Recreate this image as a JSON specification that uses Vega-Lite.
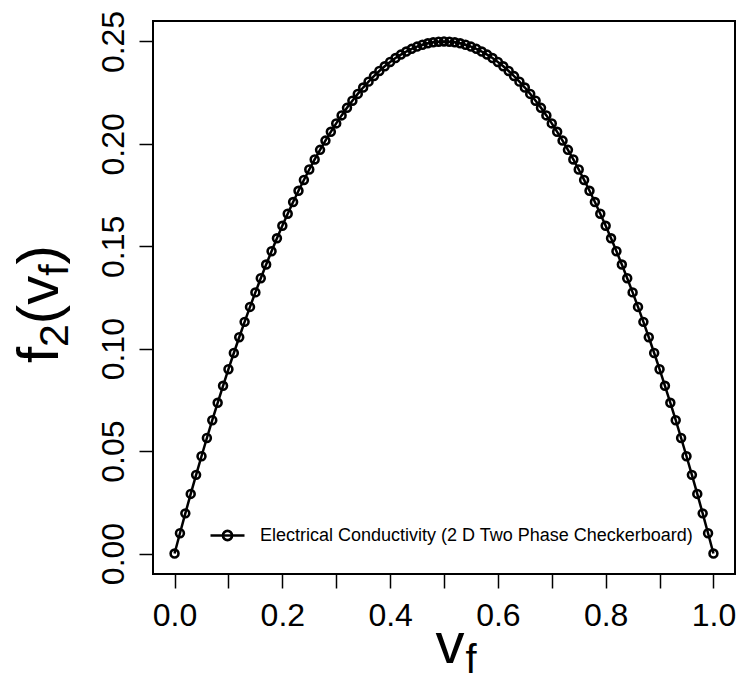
{
  "$schema": "https://vega.github.io/schema/vega-lite/v6.json",
  "width": 582,
  "height": 553,
  "autosize": {"type": "none"},
  "padding": {"left": 153, "top": 21, "right": 4, "bottom": 109},
  "background": "white",
  "config": {
    "font": "Liberation Sans",
    "view": {"stroke": "black", "strokeWidth": 2},
    "axis": {"labelFont": "Liberation Sans", "labelColor": "black", "tickColor": "black", "grid": false, "domain": false, "tickSize": 14, "tickWidth": 1.5, "labelOverlap": false, "labelFlush": false},
    "text": {"font": "Liberation Sans", "color": "black"}
  },
  "data": {"values": [
    {"v": 0.00, "f": 0}, {"v": 0.01, "f": 0.0099}, {"v": 0.02, "f": 0.0196}, {"v": 0.03, "f": 0.0291}, {"v": 0.04, "f": 0.0384},
    {"v": 0.05, "f": 0.0475}, {"v": 0.06, "f": 0.0564}, {"v": 0.07, "f": 0.0651}, {"v": 0.08, "f": 0.0736}, {"v": 0.09, "f": 0.0819},
    {"v": 0.10, "f": 0.09}, {"v": 0.11, "f": 0.0979}, {"v": 0.12, "f": 0.1056}, {"v": 0.13, "f": 0.1131}, {"v": 0.14, "f": 0.1204},
    {"v": 0.15, "f": 0.1275}, {"v": 0.16, "f": 0.1344}, {"v": 0.17, "f": 0.1411}, {"v": 0.18, "f": 0.1476}, {"v": 0.19, "f": 0.1539},
    {"v": 0.20, "f": 0.16}, {"v": 0.21, "f": 0.1659}, {"v": 0.22, "f": 0.1716}, {"v": 0.23, "f": 0.1771}, {"v": 0.24, "f": 0.1824},
    {"v": 0.25, "f": 0.1875}, {"v": 0.26, "f": 0.1924}, {"v": 0.27, "f": 0.1971}, {"v": 0.28, "f": 0.2016}, {"v": 0.29, "f": 0.2059},
    {"v": 0.30, "f": 0.21}, {"v": 0.31, "f": 0.2139}, {"v": 0.32, "f": 0.2176}, {"v": 0.33, "f": 0.2211}, {"v": 0.34, "f": 0.2244},
    {"v": 0.35, "f": 0.2275}, {"v": 0.36, "f": 0.2304}, {"v": 0.37, "f": 0.2331}, {"v": 0.38, "f": 0.2356}, {"v": 0.39, "f": 0.2379},
    {"v": 0.40, "f": 0.24}, {"v": 0.41, "f": 0.2419}, {"v": 0.42, "f": 0.2436}, {"v": 0.43, "f": 0.2451}, {"v": 0.44, "f": 0.2464},
    {"v": 0.45, "f": 0.2475}, {"v": 0.46, "f": 0.2484}, {"v": 0.47, "f": 0.2491}, {"v": 0.48, "f": 0.2496}, {"v": 0.49, "f": 0.2499},
    {"v": 0.50, "f": 0.25},
    {"v": 0.51, "f": 0.2499}, {"v": 0.52, "f": 0.2496}, {"v": 0.53, "f": 0.2491}, {"v": 0.54, "f": 0.2484}, {"v": 0.55, "f": 0.2475},
    {"v": 0.56, "f": 0.2464}, {"v": 0.57, "f": 0.2451}, {"v": 0.58, "f": 0.2436}, {"v": 0.59, "f": 0.2419}, {"v": 0.60, "f": 0.24},
    {"v": 0.61, "f": 0.2379}, {"v": 0.62, "f": 0.2356}, {"v": 0.63, "f": 0.2331}, {"v": 0.64, "f": 0.2304}, {"v": 0.65, "f": 0.2275},
    {"v": 0.66, "f": 0.2244}, {"v": 0.67, "f": 0.2211}, {"v": 0.68, "f": 0.2176}, {"v": 0.69, "f": 0.2139}, {"v": 0.70, "f": 0.21},
    {"v": 0.71, "f": 0.2059}, {"v": 0.72, "f": 0.2016}, {"v": 0.73, "f": 0.1971}, {"v": 0.74, "f": 0.1924}, {"v": 0.75, "f": 0.1875},
    {"v": 0.76, "f": 0.1824}, {"v": 0.77, "f": 0.1771}, {"v": 0.78, "f": 0.1716}, {"v": 0.79, "f": 0.1659}, {"v": 0.80, "f": 0.16},
    {"v": 0.81, "f": 0.1539}, {"v": 0.82, "f": 0.1476}, {"v": 0.83, "f": 0.1411}, {"v": 0.84, "f": 0.1344}, {"v": 0.85, "f": 0.1275},
    {"v": 0.86, "f": 0.1204}, {"v": 0.87, "f": 0.1131}, {"v": 0.88, "f": 0.1056}, {"v": 0.89, "f": 0.0979}, {"v": 0.90, "f": 0.09},
    {"v": 0.91, "f": 0.0819}, {"v": 0.92, "f": 0.0736}, {"v": 0.93, "f": 0.0651}, {"v": 0.94, "f": 0.0564}, {"v": 0.95, "f": 0.0475},
    {"v": 0.96, "f": 0.0384}, {"v": 0.97, "f": 0.0291}, {"v": 0.98, "f": 0.0196}, {"v": 0.99, "f": 0.0099}, {"v": 1.00, "f": 0}
  ]},
  "layer": [
    {
      "mark": {"type": "line", "color": "black", "strokeWidth": 2.5},
      "encoding": {
        "x": {"field": "v", "type": "quantitative", "scale": {"domain": [-0.04, 1.04], "nice": false, "zero": false},
          "axis": {"title": null, "values": [0, 0.1, 0.2, 0.3, 0.4, 0.5, 0.6, 0.7, 0.8, 0.9, 1.0],
            "labelExpr": "round(datum.value * 10) % 2 == 0 ? format(datum.value, '.1f') : ''",
            "labelFontSize": 32, "labelPadding": 12}},
        "y": {"field": "f", "type": "quantitative", "scale": {"domain": [-0.01, 0.26], "nice": false, "zero": false},
          "axis": {"title": null, "values": [0, 0.05, 0.1, 0.15, 0.2, 0.25], "format": ".2f",
            "labelAngle": 270, "labelAlign": "center", "labelBaseline": "alphabetic",
            "labelFontSize": 32, "labelPadding": 16}}
      }
    },
    {
      "mark": {"type": "point", "filled": false, "strokeWidth": 2.6, "size": 62, "opacity": 1},
      "encoding": {
        "x": {"field": "v", "type": "quantitative"},
        "y": {"field": "f", "type": "quantitative"},
        "color": {"datum": "Electrical Conductivity (2 D Two Phase Checkerboard)", "type": "nominal",
          "scale": {"range": ["black"]},
          "legend": {"title": null, "orient": "none", "legendX": 56, "legendY": 496,
            "symbolType": "M-1,0H1M-0.27,0A0.27,0.27,0,1,1,0.27,0A0.27,0.27,0,1,1,-0.27,0",
            "symbolSize": 1156, "symbolStrokeWidth": 2.6, "symbolStrokeColor": "black", "symbolFillColor": "transparent",
            "labelFontSize": 18, "labelFont": "Liberation Sans", "labelColor": "black", "labelOffset": 14,
            "padding": 0, "labelLimit": 0}}
      }
    },
    {
      "data": {"values": [{"label": "v"}]},
      "mark": {"type": "text", "fontSize": 58, "align": "right", "baseline": "alphabetic"},
      "encoding": {"text": {"field": "label"}, "x": {"datum": 0.538, "type": "quantitative"}, "y": {"datum": -0.0535, "type": "quantitative"}}
    },
    {
      "data": {"values": [{"label": "f"}]},
      "mark": {"type": "text", "fontSize": 40, "align": "left", "baseline": "alphabetic", "dx": 1, "dy": 10},
      "encoding": {"text": {"field": "label"}, "x": {"datum": 0.538, "type": "quantitative"}, "y": {"datum": -0.0535, "type": "quantitative"}}
    },
    {
      "data": {"values": [{"label": "f"}]},
      "mark": {"type": "text", "fontSize": 58, "align": "left", "baseline": "alphabetic", "angle": 270, "dx": 0},
      "encoding": {"text": {"field": "label"}, "x": {"datum": -0.2163, "type": "quantitative"}, "y": {"datum": 0.093, "type": "quantitative"}}
    },
    {
      "data": {"values": [{"label": "2"}]},
      "mark": {"type": "text", "fontSize": 41, "align": "left", "baseline": "alphabetic", "angle": 270, "dx": 16.1, "dy": 10},
      "encoding": {"text": {"field": "label"}, "x": {"datum": -0.2163, "type": "quantitative"}, "y": {"datum": 0.093, "type": "quantitative"}}
    },
    {
      "data": {"values": [{"label": "(v"}]},
      "mark": {"type": "text", "fontSize": 58, "align": "left", "baseline": "alphabetic", "angle": 270, "dx": 38.9},
      "encoding": {"text": {"field": "label"}, "x": {"datum": -0.2163, "type": "quantitative"}, "y": {"datum": 0.093, "type": "quantitative"}}
    },
    {
      "data": {"values": [{"label": "f"}]},
      "mark": {"type": "text", "fontSize": 41, "align": "left", "baseline": "alphabetic", "angle": 270, "dx": 87.2, "dy": 10},
      "encoding": {"text": {"field": "label"}, "x": {"datum": -0.2163, "type": "quantitative"}, "y": {"datum": 0.093, "type": "quantitative"}}
    },
    {
      "data": {"values": [{"label": ")"}]},
      "mark": {"type": "text", "fontSize": 58, "align": "left", "baseline": "alphabetic", "angle": 270, "dx": 98.6},
      "encoding": {"text": {"field": "label"}, "x": {"datum": -0.2163, "type": "quantitative"}, "y": {"datum": 0.093, "type": "quantitative"}}
    }
  ]
}
